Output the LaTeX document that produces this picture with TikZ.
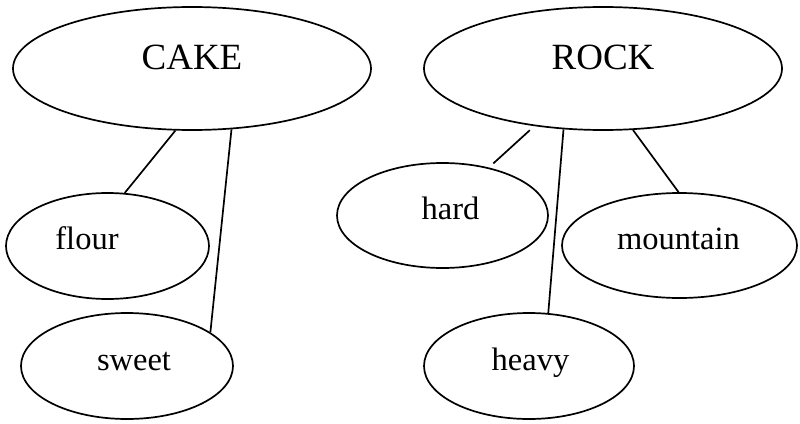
\documentclass[tikz,border=0pt]{standalone}
\usepackage{fontspec}
\setmainfont{Liberation Serif}
\usepackage{tikz}
\usetikzlibrary{shapes.geometric}

\begin{document}
\begin{tikzpicture}[x=1pt,y=-1pt]
    \useasboundingbox (0,0) rectangle (800,423);

    \tikzstyle{every node}=[draw,ellipse,line width=1.7pt,inner sep=0pt]
    \tikzstyle{lbl}=[draw=none,inner sep=0pt,text height=0pt,text depth=0pt,font=\fontsize{32.5}{36}\selectfont]
    \tikzstyle{biglbl}=[lbl,font=\fontsize{37}{40}\selectfont]

    % top words
    \node[minimum width=358pt,minimum height=123pt,label={[biglbl,yshift=-0.5pt]center:CAKE}](cake) at (192,68.5){};
    \node[minimum width=358pt,minimum height=123pt,label={[biglbl,yshift=-0.5pt]center:ROCK}](rock) at (603,68.5){};

    % associations
    \node[minimum width=203pt,minimum height=106pt,label={[lbl,xshift=-20.5pt,yshift=-3pt]center:flour}](flour) at (107.5,246){};
    \node[minimum width=212pt,minimum height=106pt,label={[lbl,xshift=7pt,yshift=-4pt]center:sweet}](sweet) at (127,366){};
    \node[minimum width=211pt,minimum height=105pt,label={[lbl,xshift=8pt,yshift=-3.5pt]center:hard}](hard) at (442.5,215.5){};
    \node[minimum width=235pt,minimum height=105pt,label={[lbl,xshift=-1pt,yshift=-3.5pt]center:mountain}](mountain) at (679.5,245.5){};
    \node[minimum width=210pt,minimum height=106pt,label={[lbl,xshift=1.5pt,yshift=-4pt]center:heavy}](heavy) at (529,366){};

    \tikzstyle{every node}=[]

    \draw[line width=1.7pt] (cake.-105.2)--(flour.72.7);
    \draw[line width=1.7pt] (cake.-57.4)--(sweet.22.8);
    \draw[line width=1.7pt,shorten <=6pt,shorten >=6pt] (rock.-140.3)--(hard.46.1);
    \draw[line width=1.7pt] (rock.-123)--(heavy.70.3);
    \draw[line width=1.7pt] (rock.-64.7)--(mountain.91.6);

\end{tikzpicture}
\end{document}
